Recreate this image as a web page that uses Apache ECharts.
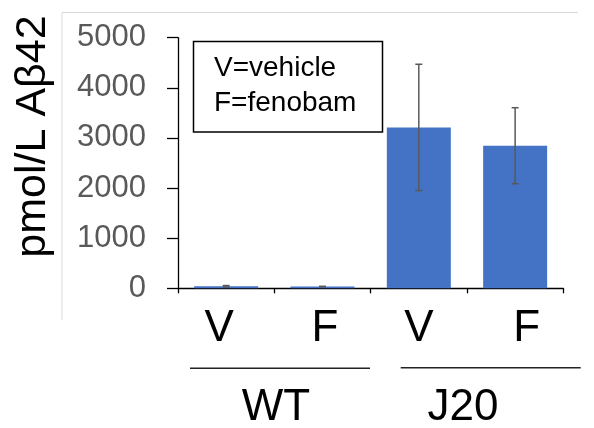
<!DOCTYPE html>
<html>
<head>
<meta charset="utf-8">
<script src="https://cdn.jsdelivr.net/npm/echarts@6/dist/echarts.min.js"></script>
<style>html,body{margin:0;padding:0;background:#fff}#c{width:594px;height:428px}</style>
</head>
<body>
<div id="c"></div>
<script>
var categories = ['V', 'F', 'V', 'F'];
var means = [40, 35, 3210, 2845];
var errors = [15, 5, 1260, 758];
var yMin = 0, yMax = 5000, yInterval = 1000;
var groupLabels = ['WT', 'J20'];
var legendLines = ['V=vehicle', 'F=fenobam'];
var yName = 'pmol/L A\u03B242';

var FONT = '"Liberation Sans", Arial, sans-serif';
var labelShift = [-7, 2.5, 0, 11.5];

var chart = echarts.init(document.getElementById('c'));
chart.setOption({
  animation: false,
  backgroundColor: '#fff',
  grid: { left: 178, right: 30.7, top: 37.7, bottom: 139.7 },
  xAxis: {
    type: 'category',
    data: categories.map(function (c, i) {
      var s = labelShift[i];
      return { value: c, textStyle: { padding: s < 0 ? [0, -2 * s, 0, 0] : [0, 0, 0, 2 * s] } };
    }),
    axisLine: { lineStyle: { color: '#000', width: 1.3 } },
    axisTick: { show: true, length: 5, lineStyle: { color: '#000', width: 1.3 } },
    axisLabel: { margin: 19, fontSize: 44, lineHeight: 44, color: '#000', fontFamily: FONT, verticalAlign: 'top' }
  },
  yAxis: {
    type: 'value', min: yMin, max: yMax, interval: yInterval,
    axisLine: { show: true, lineStyle: { color: '#000', width: 1.3 } },
    axisTick: { show: true, length: 11, lineStyle: { color: '#000', width: 1.3 } },
    splitLine: { show: false },
    axisLabel: { margin: 32, fontSize: 31, color: '#595959', fontFamily: FONT,
      formatter: function (v) { return String(v); } }
  },
  series: [
    {
      type: 'bar', data: means, barWidth: 64,
      itemStyle: { color: '#4472C4' }
    },
    {
      type: 'custom',
      data: means.map(function (m, i) { return [i, m - errors[i], m + errors[i]]; }),
      renderItem: function (params, api) {
        var lo = api.coord([api.value(0), api.value(1)]);
        var hi = api.coord([api.value(0), api.value(2)]);
        var x = lo[0], w = 3.5;
        var st = { stroke: '#595959', lineWidth: 1.5 };
        return {
          type: 'group',
          children: [
            { type: 'line', shape: { x1: x, y1: lo[1], x2: x, y2: hi[1] }, style: st },
            { type: 'line', shape: { x1: x - w, y1: lo[1], x2: x + w, y2: lo[1] }, style: st },
            { type: 'line', shape: { x1: x - w, y1: hi[1], x2: x + w, y2: hi[1] }, style: st }
          ]
        };
      },
      z: 10
    }
  ],
  graphic: [
    { type: 'polyline', shape: { points: [[62, 320], [62, 12.5], [578, 12.5]] }, style: { stroke: '#d9d9d9', lineWidth: 1, fill: null } },
    { type: 'text', x: 33, y: 136.5, rotation: Math.PI / 2,
      style: { text: yName, x: 0, y: 0, align: 'center', verticalAlign: 'middle', fontSize: 43, fontFamily: FONT, fill: '#000' } },
    { type: 'rect', shape: { x: 193.5, y: 41.5, width: 189, height: 90.5 }, style: { fill: '#fff', stroke: '#000', lineWidth: 1.5 } },
    { type: 'text', style: { text: legendLines[0], x: 214, y: 68, verticalAlign: 'middle', fontSize: 28, fontFamily: FONT, fill: '#000' } },
    { type: 'text', style: { text: legendLines[1], x: 214, y: 103.5, verticalAlign: 'middle', fontSize: 28, fontFamily: FONT, fill: '#000' } },
    { type: 'line', shape: { x1: 190, y1: 368.3, x2: 370, y2: 368.3 }, style: { stroke: '#222', lineWidth: 1.5 } },
    { type: 'line', shape: { x1: 400.7, y1: 367.7, x2: 580.7, y2: 367.7 }, style: { stroke: '#222', lineWidth: 1.5 } },
    { type: 'text', style: { text: groupLabels[0], x: 276, y: 408, align: 'center', verticalAlign: 'middle', fontSize: 44, fontFamily: FONT, fill: '#000' } },
    { type: 'text', style: { text: groupLabels[1], x: 463, y: 408, align: 'center', verticalAlign: 'middle', fontSize: 44, fontFamily: FONT, fill: '#000' } }
  ]
});
</script>
</body>
</html>
